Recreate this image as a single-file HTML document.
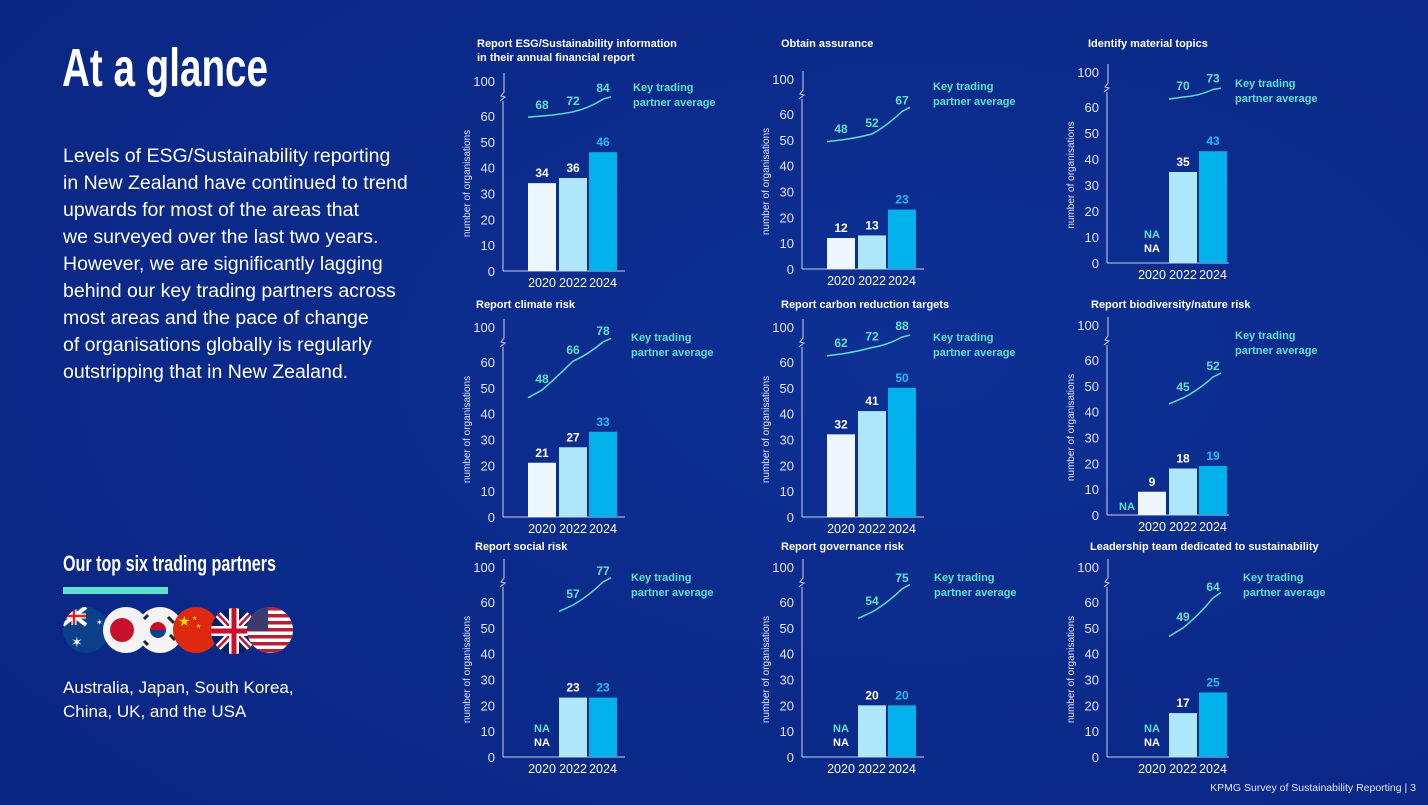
<!DOCTYPE html>
<html><head><meta charset="utf-8"><style>
body{margin:0;background:#0b2c8c;}
svg{display:block;font-family:"Liberation Sans",sans-serif;}
.n{font-family:"Liberation Sans Narrow","Liberation Sans",sans-serif;font-weight:bold;}
</style></head><body>
<svg id="pg" width="1428" height="805" viewBox="0 0 1428 805">
<defs><radialGradient id="bg" cx="0.65" cy="0.45" r="0.8"><stop offset="0" stop-color="#0d3094"/><stop offset="1" stop-color="#092683"/></radialGradient>
<clipPath id="c1"><circle cx="86" cy="630" r="23"/></clipPath><clipPath id="c2"><circle cx="126" cy="630" r="23"/></clipPath><clipPath id="c3"><circle cx="160" cy="630" r="23"/></clipPath><clipPath id="c4"><circle cx="196" cy="630" r="23"/></clipPath><clipPath id="c5"><circle cx="234" cy="631" r="23"/></clipPath><clipPath id="c6"><circle cx="270" cy="630" r="23"/></clipPath></defs>
<rect width="1428" height="805" fill="url(#bg)"/>
<text x="62" y="86" fill="#fff" class="n" font-size="54" textLength="206" lengthAdjust="spacingAndGlyphs">At a glance</text>
<g fill="#fff" font-size="19.5">
<text x="63" y="162">Levels of ESG/Sustainability reporting</text>
<text x="63" y="189">in New Zealand have continued to trend</text>
<text x="63" y="216">upwards for most of the areas that</text>
<text x="63" y="243">we surveyed over the last two years.</text>
<text x="63" y="270">However, we are significantly lagging</text>
<text x="63" y="297">behind our key trading partners across</text>
<text x="63" y="324">most areas and the pace of change</text>
<text x="63" y="351">of organisations globally is regularly</text>
<text x="63" y="378">outstripping that in New Zealand.</text>
</g>
<text x="63" y="571" fill="#fff" class="n" font-size="22" textLength="213" lengthAdjust="spacingAndGlyphs">Our top six trading partners</text>
<rect x="63" y="587" width="105" height="7" fill="#5ee0d0"/>
<g>
<g clip-path="url(#c1)"><rect x="60" y="605" width="60" height="50" fill="#0a3f8a"/><path d="M63 607L86 625M86 607L63 625" stroke="#fff" stroke-width="4"/><path d="M63 616H86M74 607V625" stroke="#fff" stroke-width="5"/><path d="M63 616H86M74 607V625" stroke="#d22" stroke-width="2.5"/><text x="71" y="647" fill="#fff" font-size="14">✶</text><text x="96" y="625" fill="#fff" font-size="8">✶</text></g>
<g clip-path="url(#c2)"><rect x="100" y="605" width="52" height="50" fill="#f4f4f4"/><circle cx="122" cy="630" r="12" fill="#c8102e"/></g>
<g clip-path="url(#c3)"><rect x="136" y="605" width="52" height="50" fill="#f4f4f4"/><path d="M150 630a8 8 0 0 1 16 0z" fill="#c8102e"/><path d="M150 630a8 8 0 0 0 16 0z" fill="#0a3f8a"/><path d="M168 617l6 6M170 635l5 5M144 619l4-4M144 641l4 4" stroke="#222" stroke-width="3"/></g>
<g clip-path="url(#c4)"><rect x="172" y="605" width="52" height="50" fill="#de2910"/><text x="178" y="626" fill="#ffde00" font-size="14">★</text><text x="192" y="620" fill="#ffde00" font-size="6">★</text><text x="196" y="628" fill="#ffde00" font-size="6">★</text></g>
<g clip-path="url(#c5)"><rect x="210" y="605" width="52" height="52" fill="#012169"/><path d="M210 606L258 656M258 606L210 656" stroke="#fff" stroke-width="7"/><path d="M210 606L258 656M258 606L210 656" stroke="#c8102e" stroke-width="2.5"/><path d="M210 631H258M234 605V657" stroke="#fff" stroke-width="10"/><path d="M210 631H258M234 605V657" stroke="#c8102e" stroke-width="5"/></g>
<g clip-path="url(#c6)"><rect x="246" y="605" width="50" height="50" fill="#fff"/><g fill="#b22234"><rect x="246" y="607" width="50" height="3.5"/><rect x="246" y="614" width="50" height="3.5"/><rect x="246" y="621" width="50" height="3.5"/><rect x="246" y="628" width="50" height="3.5"/><rect x="246" y="635" width="50" height="3.5"/><rect x="246" y="642" width="50" height="3.5"/><rect x="246" y="649" width="50" height="3.5"/></g><rect x="246" y="605" width="22" height="26" fill="#3c3b6e"/></g>
</g>
<text x="63" y="693" fill="#fff" font-size="17">Australia, Japan, South Korea,</text>
<text x="63" y="717" fill="#fff" font-size="17">China, UK, and the USA</text>
<text x="1416" y="791" fill="#dfe6ff" font-size="10.5" text-anchor="end">KPMG Survey of Sustainability Reporting | 3</text>
<g id="charts"></g>
</svg>
<script>
const titles = [["Report ESG/Sustainability information","in their annual financial report"],["Obtain assurance"],["Identify material topics"],["Report climate risk"],["Report carbon reduction targets"],["Report biodiversity/nature risk"],["Report social risk"],["Report governance risk"],["Leadership team dedicated to sustainability"]];
const years = ["2020","2022","2024"];
const yTicks = [0,10,20,30,40,50,60];
const nzValues = [[34,36,46],[12,13,23],[null,35,43],[21,27,33],[32,41,50],[9,18,19],[null,23,23],[null,20,20],[null,17,25]];
const ktaValues = [[68,72,84],[48,52,67],[null,70,73],[48,66,78],[62,72,88],[null,45,52],[null,57,77],[null,54,75],[null,49,64]];
const naFlags = [false,false,true,false,false,"teal",true,true,true];
// layout (not data)
const L = [
 {ax:503,sh:0,y0:271,y60:116,tx:477,ty:47,lab:[633,91],ly:116,k:1.05},
 {ax:802,sh:0,y0:269,y60:114,tx:781,ty:47,lab:[933,90],ly:140,k:1.5},
 {ax:1107,sh:6,y0:263,y60:107,tx:1088,ty:47,lab:[1235,87],ly:97,k:2.5},
 {ax:503,sh:0,y0:517,y60:362,tx:476,ty:308,lab:[631,341],ly:390,k:1.6},
 {ax:802,sh:0,y0:517,y60:362,tx:781,ty:308,lab:[933,341],ly:354,k:0.65},
 {ax:1107,sh:6,y0:515,y60:360,tx:1091,ty:308,lab:[1235,339],ly:398,k:3},
 {ax:503,sh:0,y0:757,y60:602,tx:475,ty:550,lab:[631,581],ly:605,k:1.15},
 {ax:802,sh:0,y0:757,y60:602,tx:781,ty:550,lab:[934,581],ly:612,k:1.1},
 {ax:1107,sh:6,y0:757,y60:602,tx:1090,ty:550,lab:[1243,581],ly:628,k:2}
];
const barOff=[25,56,86], bw=28, colors=["#eef7ff","#aee6fb","#00b1eb"], valCol=["#fff","#fff","#22bdf2"];
const NS="http://www.w3.org/2000/svg";
const root=document.getElementById('charts');
function el(t,a,p,txt){const e=document.createElementNS(NS,t);for(const k in a)e.setAttribute(k,a[k]);if(txt!=null)e.textContent=txt;(p||root).appendChild(e);return e;}
titles.forEach((tt,i)=>{
 const c=L[i];
 const yS=v=>c.y0-(v/60)*(c.y0-c.y60);
 const g=el('g',{});
 
 
 tt.forEach((s,j)=>{const t=el('text',{x:c.tx,y:c.ty+j*14,fill:'#fff','font-size':'11','font-weight':'bold'},g,s);
  
  });
 const yl=el('text',{transform:`translate(${c.ax-33},${(c.y0+c.y60)/2-10}) rotate(-90)`,fill:'#dfe6ff','font-size':'10','text-anchor':'middle'},g,'number of organisations');
 
 
 yTicks.forEach(v=>{const t=el('text',{x:c.ax-8,y:yS(v)+5,fill:'#dfe6ff','font-size':'13','text-anchor':'end'},g,v);
  
  });
 const y100=c.y60-35;
 const t100=el('text',{x:c.ax-8,y:y100+5,fill:'#dfe6ff','font-size':'13','text-anchor':'end'},g,'100');
 
 
 const br=c.y60-19;
 const ax=el('path',{d:`M${c.ax} ${c.y0}V${br+4}M${c.ax-3} ${br+4}L${c.ax+2} ${br}L${c.ax-2} ${br-1}L${c.ax+1} ${br-5}V${y100-8}M${c.ax} ${c.y0}H${c.ax+122}`,stroke:'#c5d0f0','stroke-width':'1',fill:'none'},g);
 
 
 years.forEach((yr,j)=>{
  const bx=c.ax+barOff[j]+c.sh;
  const cx=bx+bw/2;
  const t=el('text',{x:cx,y:c.y0+16,fill:'#fff','font-size':'12.5','text-anchor':'middle'},g,yr);
  
  
  const v=nzValues[i][j];
  if(v!=null){
   const r=el('rect',{x:bx,y:yS(v),width:bw,height:c.y0-yS(v),fill:colors[j]},g);
   
   
   const vt=el('text',{x:cx,y:yS(v)-6,fill:valCol[j],'font-size':'12','text-anchor':'middle',class:'n'},g,v);
   
   
  }
 });
 if(naFlags[i]===true){
  const cx=c.ax+barOff[0]+c.sh+bw/2;
  const a=el('text',{x:cx,y:c.y0-25,fill:'#5ee0d0','font-size':'11','text-anchor':'middle',class:'n'},g,'NA');
  
  
  const b=el('text',{x:cx,y:c.y0-11,fill:'#fff','font-size':'11','text-anchor':'middle',class:'n'},g,'NA');
  
  
 } else if(naFlags[i]==='teal'){
  const a=el('text',{x:c.ax+20,y:c.y0-5,fill:'#5ee0d0','font-size':'11','text-anchor':'middle',class:'n'},g,'NA');
  
  
 }
 const kv=ktaValues[i]; let first=null;
 const pts=[];
 kv.forEach((v,j)=>{if(v==null)return; if(first==null)first=v;
  pts.push([c.ax+barOff[j]+c.sh+bw/2, c.ly-(v-first)*c.k, v]);});
 const x0=pts[0][0]-14, xN=pts[pts.length-1][0]+8;
 const s0=(pts[1][1]-pts[0][1])/(pts[1][0]-pts[0][0]);
 const n=pts.length; const sN=(pts[n-1][1]-pts[n-2][1])/(pts[n-1][0]-pts[n-2][0]);
 let d=`M${x0} ${pts[0][1]-14*s0*0.6}`;
 pts.forEach((p,j)=>{ if(j==0){d+=` Q${p[0]-6} ${p[1]-6*s0*0.6} ${p[0]} ${p[1]}`;} else {const q=pts[j-1];d+=` Q${(q[0]+p[0])/2} ${(q[1]+p[1])/2+ (j==n-1?3:1)} ${p[0]} ${p[1]}`;} });
 d+=` L${xN} ${pts[n-1][1]+8*sN*0.7}`;
 const ln=el('path',{d:d,stroke:'#5ee0d0','stroke-width':'1.5',fill:'none'},g);
 
 
 pts.forEach(p=>{const t=el('text',{x:p[0],y:p[1]-7,fill:'#5ee0d0','font-size':'12','text-anchor':'middle',class:'n'},g,p[2]);
  
  });
 ['Key trading','partner average'].forEach((s,j)=>{const t=el('text',{x:c.lab[0],y:c.lab[1]+j*15,fill:'#5ee0d0','font-size':'11','font-weight':'bold'},g,s);
  
  });
});
</script>
</body></html>
